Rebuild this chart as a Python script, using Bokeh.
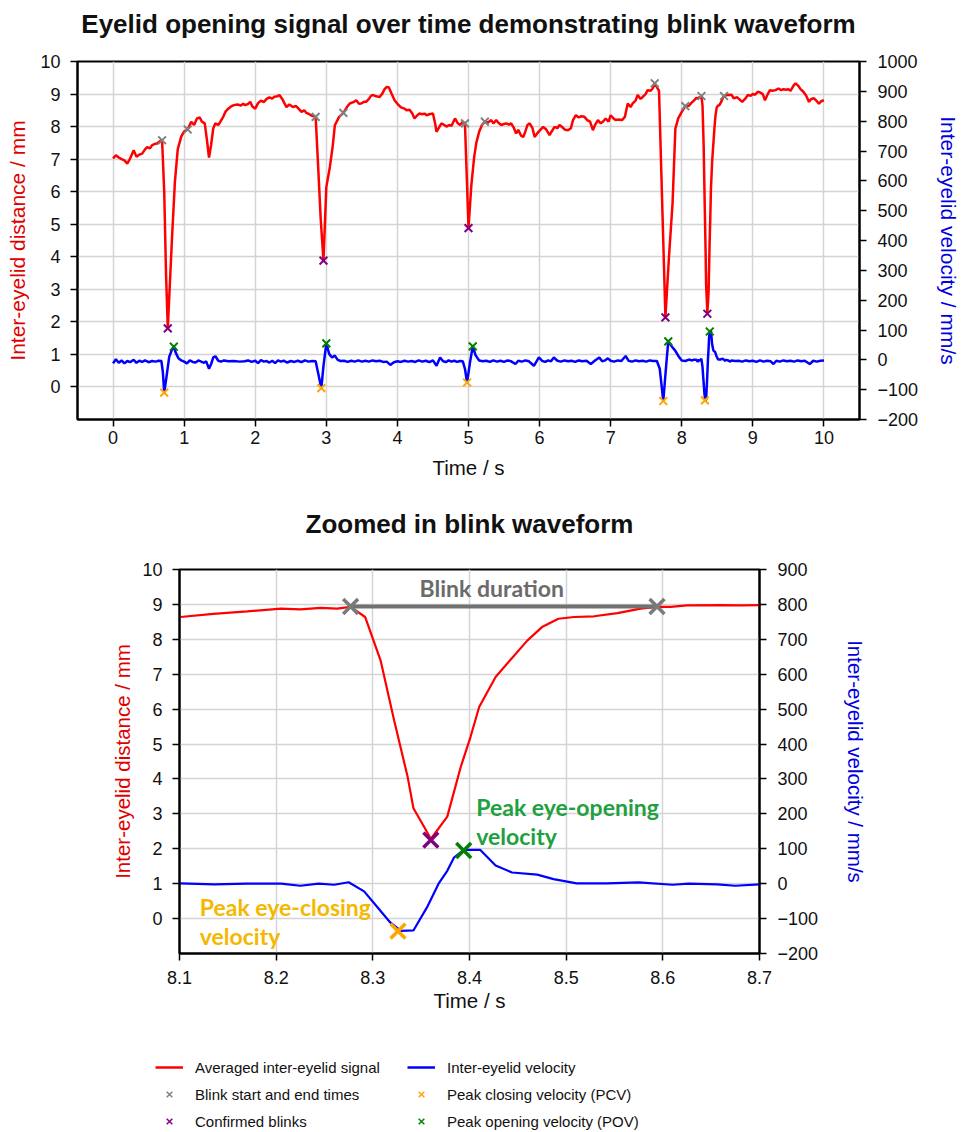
from bokeh.plotting import figure
from bokeh.models import Range1d, LinearAxis, FixedTicker, Label, Legend, LegendItem, Title
from bokeh.embed import file_html
from bokeh.resources import INLINE
from bokeh.core.properties import value

# ---------------- data ----------------
t_signal = [0.00, 0.04, 0.08, 0.12, 0.16, 0.20, 0.24, 0.29, 0.33, 0.37, 0.41, 0.45, 0.48, 0.52, 0.55, 0.59, 0.62, 0.66, 0.69,
            0.72, 0.745, 0.77, 0.80, 0.83, 0.87, 0.91, 0.96, 1.00, 1.05, 1.10, 1.14, 1.18, 1.22, 1.25, 1.29, 1.32, 1.35,
            1.38, 1.41, 1.44, 1.48, 1.51, 1.55, 1.58, 1.62, 1.66, 1.70, 1.75, 1.80, 1.83, 1.86, 1.90, 1.93, 1.96, 2.00,
            2.04, 2.08, 2.12, 2.16, 2.20, 2.24, 2.27, 2.31, 2.34, 2.38, 2.41, 2.44, 2.48, 2.53, 2.57, 2.61, 2.65, 2.69,
            2.72, 2.76, 2.80, 2.85, 2.88, 2.92, 2.96, 3.00, 3.05, 3.09, 3.12, 3.18, 3.24, 3.29, 3.33, 3.38, 3.42, 3.46,
            3.49, 3.53, 3.56, 3.60, 3.63, 3.66, 3.70, 3.75, 3.79, 3.82, 3.85, 3.88, 3.92, 3.96, 4.00, 4.05, 4.10, 4.13,
            4.17, 4.21, 4.24, 4.28, 4.31, 4.35, 4.38, 4.41, 4.45, 4.50, 4.53, 4.55, 4.58, 4.62, 4.66, 4.69, 4.73, 4.76,
            4.81, 4.85, 4.88, 4.92, 4.95, 4.975, 5.00, 5.04, 5.08, 5.11, 5.15, 5.19, 5.23, 5.27, 5.32, 5.35, 5.39, 5.42,
            5.46, 5.50, 5.53, 5.57, 5.60, 5.64, 5.67, 5.70, 5.74, 5.77, 5.80, 5.83, 5.86, 5.90, 5.93, 5.97, 6.01, 6.05,
            6.09, 6.14, 6.17, 6.21, 6.25, 6.28, 6.32, 6.36, 6.40, 6.44, 6.47, 6.51, 6.55, 6.59, 6.63, 6.67, 6.71, 6.75,
            6.78, 6.82, 6.86, 6.89, 6.93, 6.97, 7.00, 7.04, 7.07, 7.11, 7.16, 7.20, 7.24, 7.28, 7.31, 7.35, 7.38, 7.42,
            7.45, 7.49, 7.52, 7.56, 7.59, 7.62, 7.68, 7.72, 7.77, 7.82, 7.87, 7.91, 7.95, 8.00, 8.05, 8.101, 8.135,
            8.170, 8.205, 8.225, 8.246, 8.263, 8.277, 8.292, 8.308, 8.322, 8.336, 8.342, 8.353, 8.360, 8.377, 8.391,
            8.401, 8.410, 8.427, 8.442, 8.460, 8.475, 8.492, 8.508, 8.529, 8.553, 8.577, 8.594, 8.608, 8.625, 8.660,
            8.680, 8.700, 8.73, 8.78, 8.85, 8.89, 8.93, 8.97, 9.00, 9.03, 9.07, 9.10, 9.14, 9.17, 9.21, 9.24, 9.28,
            9.32, 9.36, 9.40, 9.43, 9.47, 9.50, 9.53, 9.57, 9.60, 9.64, 9.67, 9.71, 9.75, 9.79, 9.82, 9.86, 9.90, 9.93,
            9.96, 10.00]
mm_signal = [7.02, 7.12, 7.05, 7.00, 6.96, 6.86, 7.02, 7.27, 7.07, 7.14, 7.17, 7.30, 7.37, 7.33, 7.43, 7.47, 7.48, 7.55, 7.58,
             6.00, 3.50, 1.80, 3.20, 4.60, 6.30, 7.30, 7.70, 7.85, 7.91, 8.15, 8.05, 8.25, 8.28, 8.15, 8.10, 7.60, 7.05,
             7.45, 7.95, 8.10, 8.05, 8.15, 8.30, 8.45, 8.55, 8.62, 8.66, 8.68, 8.65, 8.70, 8.66, 8.70, 8.76, 8.62, 8.55,
             8.72, 8.80, 8.75, 8.85, 8.90, 8.86, 8.92, 8.93, 8.97, 8.85, 8.72, 8.60, 8.68, 8.60, 8.64, 8.55, 8.45, 8.50,
             8.42, 8.38, 8.33, 8.30, 7.00, 5.20, 3.88, 6.14, 6.76, 7.40, 8.04, 8.30, 8.42, 8.60, 8.71, 8.75, 8.81, 8.70,
             8.71, 8.76, 8.76, 8.85, 8.95, 8.97, 8.93, 8.91, 9.02, 9.15, 9.22, 9.20, 9.00, 8.81, 8.70, 8.59, 8.55, 8.50,
             8.52, 8.40, 8.25, 8.35, 8.40, 8.38, 8.40, 8.35, 8.38, 8.40, 8.10, 7.84, 7.95, 8.10, 8.05, 8.00, 8.05, 8.02,
             8.25, 8.10, 8.05, 8.15, 8.10, 6.50, 4.88, 6.20, 7.07, 7.50, 7.84, 8.05, 8.15, 8.12, 8.20, 8.10, 8.20, 8.12,
             8.05, 8.08, 8.10, 8.06, 8.10, 7.95, 7.79, 7.90, 7.72, 7.68, 7.85, 8.05, 8.10, 7.95, 7.68, 7.80, 7.90, 7.99,
             7.92, 7.74, 7.85, 7.99, 7.95, 8.05, 7.98, 7.90, 7.89, 7.95, 8.20, 8.35, 8.28, 8.32, 8.30, 8.20, 8.15, 7.89,
             8.05, 8.20, 8.10, 8.15, 8.25, 8.15, 8.35, 8.25, 8.20, 8.22, 8.20, 8.30, 8.71, 8.60, 8.71, 8.80, 8.97, 8.85,
             8.91, 9.00, 9.12, 9.10, 9.17, 9.33, 9.10, 6.00, 2.14, 4.00, 5.63, 7.94, 8.25, 8.45, 8.63, 8.64, 8.73,
             8.80, 8.88, 8.86, 8.90, 8.88, 8.93, 8.64, 7.40, 5.68, 4.06, 3.16, 2.63, 2.28, 2.92, 4.35,
             5.20, 6.06, 6.92, 7.40, 7.97, 8.35, 8.59, 8.64, 8.66, 8.75, 8.88, 8.93, 8.93, 8.97, 8.98,
             8.97, 8.98, 8.87, 8.90, 8.76, 8.85, 8.97, 8.95, 9.00, 8.98, 9.07, 9.05, 9.00, 8.81, 9.00, 9.12, 9.10,
             9.12, 9.17, 9.12, 9.15, 9.13, 9.15, 9.10, 9.25, 9.33, 9.25, 9.15, 9.07, 8.95, 8.76, 8.85, 8.87, 8.78, 8.70,
             8.78, 8.81]

t_velocity = [0.00, 0.04, 0.08, 0.12, 0.16, 0.20, 0.24, 0.29, 0.33, 0.37, 0.41, 0.45, 0.50, 0.55, 0.60, 0.64, 0.68, 0.70,
              0.72, 0.75, 0.79, 0.83, 0.855, 0.88, 0.92, 0.96, 1.00, 1.04, 1.08, 1.12, 1.16, 1.20, 1.24, 1.28, 1.31, 1.35,
              1.38, 1.41, 1.44, 1.48, 1.52, 1.56, 1.62, 1.70, 1.78, 1.85, 1.90, 1.95, 2.00, 2.04, 2.08, 2.12, 2.16, 2.20,
              2.24, 2.28, 2.32, 2.36, 2.40, 2.45, 2.50, 2.55, 2.60, 2.65, 2.70, 2.75, 2.80, 2.85, 2.89, 2.93, 2.96, 3.00,
              3.04, 3.08, 3.12, 3.16, 3.20, 3.25, 3.30, 3.35, 3.40, 3.45, 3.50, 3.55, 3.60, 3.65, 3.70, 3.75, 3.80, 3.85,
              3.90, 3.95, 4.00, 4.05, 4.10, 4.15, 4.20, 4.25, 4.30, 4.35, 4.40, 4.45, 4.50, 4.55, 4.60, 4.64, 4.68, 4.72,
              4.76, 4.80, 4.84, 4.88, 4.92, 4.95, 4.98, 5.02, 5.06, 5.10, 5.15, 5.20, 5.25, 5.30, 5.35, 5.40, 5.45, 5.50,
              5.55, 5.60, 5.66, 5.70, 5.75, 5.80, 5.85, 5.92, 5.99, 6.04, 6.08, 6.12, 6.16, 6.20, 6.25, 6.30, 6.35, 6.40,
              6.45, 6.50, 6.55, 6.60, 6.66, 6.72, 6.78, 6.84, 6.88, 6.92, 6.96, 7.00, 7.05, 7.10, 7.15, 7.21, 7.25, 7.30,
              7.35, 7.40, 7.45, 7.50, 7.55, 7.60, 7.65, 7.69, 7.74, 7.78, 7.81, 7.86, 7.91, 7.96, 8.00, 8.05, 8.101,
              8.136, 8.170, 8.205, 8.225, 8.244, 8.260, 8.275, 8.291, 8.305, 8.318, 8.329, 8.342, 8.356, 8.368, 8.377,
              8.384, 8.394, 8.411, 8.427, 8.444, 8.470, 8.487, 8.511, 8.542, 8.575, 8.610, 8.627, 8.656, 8.675, 8.700,
              8.75, 8.80, 8.85, 8.90, 8.95, 9.00, 9.05, 9.10, 9.15, 9.20, 9.25, 9.29, 9.33, 9.38, 9.43, 9.48, 9.53, 9.58,
              9.63, 9.68, 9.73, 9.80, 9.85, 9.90, 9.95, 10.00]
v_velocity = [-12, 2, -10, -2, -12, -4, -8, 0, -10, -3, -7, -2, -8, -4, -6, -3, -4, -40,
              -110, -60, 10, 35, 44, 25, 5, -2, -6, -12, -2, -7, -9, -2, -6, -10, -5, -30,
              -14, 8, 12, -3, -6, -2, -5, -4, -6, -5, -2, -7, -3, -11, -1, -6, -4, -9,
              -3, -11, -2, -6, -3, -9, -4, -7, -3, -8, -2, -6, -4, -5, -50, -95, -20, 55,
              20, 8, 14, 0, -4, -3, -7, -3, -6, -2, -6, -3, -6, -2, -5, -3, -7, -6,
              -17, -8, -5, -7, -3, -6, -4, -7, -2, -6, -3, -8, -2, -20, 8, -4, -8, -2,
              -6, -3, -7, -4, -5, -30, -76, -10, 45, 15, -2, -5, -3, -7, -2, -6, -3, -7,
              -2, -5, -14, -3, -6, -2, -5, -20, 8, -4, -7, -2, -5, 8, -3, -6, -2, -5,
              -3, -7, -2, -5, -3, -14, -2, 8, -5, -2, 5, -3, -6, -2, -4, 13, -3, -6,
              -2, -5, -3, -6, -2, -4, -4, -30, -138, -20, 62, 45, 30, 10, -2, -4, 1,
              -2, 0, 0, -6, 0, -3, 4, -22, -68, -111, -135, -134, -68, 0, 37,
              75, 97, 97, 52, 32, 26, 13, 1, 1, 4, -3, 0, -2, -6, -2,
              -4, -3, -6, -2, -5, -3, -7, -2, -6, -3, -5, -14, -3, -6, -2, -5, -3, -6,
              -2, -5, -3, -14, -3, -6, -3, -2]

blink_edge_t = [0.69, 1.05, 2.85, 3.24, 4.95, 5.23, 7.62, 8.05, 8.277, 8.594]
blink_edge_mm = [7.58, 7.91, 8.30, 8.42, 8.10, 8.15, 9.33, 8.63, 8.94, 8.94]
confirmed_t = [0.77, 2.96, 5.00, 7.77, 8.36]
confirmed_mm = [1.80, 3.88, 4.88, 2.14, 2.25]
pcv_t = [0.72, 2.93, 4.98, 7.74, 8.326]
pcv_v = [-110, -95, -76, -138, -136]
pov_t = [0.855, 3.00, 5.06, 7.81, 8.394]
pov_v = [44, 55, 45, 62, 95]

top_x_ticks = list(range(0, 11))
mm_ticks = list(range(0, 11))
top_vel_ticks = list(range(-200, 1001, 100))
zoom_x_ticks = [8.1, 8.2, 8.3, 8.4, 8.5, 8.6, 8.7]
zoom_vel_ticks = list(range(-200, 901, 100))

legend_labels_left = ["Averaged inter-eyelid signal", "Blink start and end times", "Confirmed blinks"]
legend_labels_right = ["Inter-eyelid velocity", "Peak closing velocity (PCV)", "Peak opening velocity (POV)"]

# ---------------- style ----------------
FONT = "Liberation Sans"
ANN = "Lato"
RED = "#ff0000"
BLUE = "#0000ff"
GRAY = "#808080"
PURPLE = "#800080"
ORANGE = "#ffa500"
GREEN = "#008000"
NAN = float("nan")
W = 970


def minus_overrides(ticks):
    return {t: ("\u2212" + str(abs(t))) for t in ticks if t < 0}


def style_axis(ax, ticks, label, label_color, tick_standoff, label_standoff, label_size="20.5px"):
    ax.ticker = FixedTicker(ticks=ticks)
    ax.axis_line_color = "black"
    ax.axis_line_width = 2
    ax.major_tick_line_color = "black"
    ax.major_tick_line_width = 1.5
    ax.major_tick_in = 0
    ax.major_tick_out = 7
    ax.minor_tick_line_color = None
    ax.major_label_text_font = FONT
    ax.major_label_text_font_size = "18px"
    ax.major_label_text_color = "#111111"
    ax.major_label_standoff = tick_standoff
    ax.axis_label = label
    ax.axis_label_text_font = FONT
    ax.axis_label_text_font_size = label_size
    ax.axis_label_text_font_style = "normal"
    ax.axis_label_text_color = label_color
    ax.axis_label_standoff = label_standoff
    ov = minus_overrides(ticks)
    if ov:
        ax.major_label_overrides = ov


def base_figure(height, xr, yr, vr, borders, title, title_standoff, spacer_standoff):
    p = figure(width=W, height=height, x_range=xr, y_range=yr,
               output_backend="svg", toolbar_location=None,
               min_border_left=borders[0], min_border_right=borders[1],
               min_border_top=borders[2], min_border_bottom=borders[3])
    p.extra_y_ranges = {"vel": vr}
    p.outline_line_color = "black"
    p.outline_line_width = 2
    p.background_fill_color = "white"
    p.border_fill_color = "white"
    p.grid.grid_line_color = "#d4d4d4"
    p.grid.grid_line_width = 1.5
    p.title.text = title
    p.title.align = "center"
    p.title.text_font = FONT
    p.title.text_font_size = "26px"
    p.title.text_font_style = "bold"
    p.title.text_color = "#111111"
    p.title.standoff = title_standoff
    # empty spacer between the title and the plot frame
    p.add_layout(Title(text=" ", text_font_size="10px", standoff=spacer_standoff), "above")
    return p


# ---------------- top panel ----------------
p1 = base_figure(490, Range1d(-0.5, 10.5), Range1d(-1, 10), Range1d(-200, 1000),
                 (77, W - 859, 61, 71), "Eyelid opening signal over time demonstrating blink waveform", 10, 5)
style_axis(p1.xaxis[0], top_x_ticks, "Time / s", "#111111", 4, 9)
style_axis(p1.yaxis[0], mm_ticks, "Inter-eyelid distance / mm", "#e00000", 10, 8, "21px")
r_ax1 = LinearAxis(y_range_name="vel")
style_axis(r_ax1, top_vel_ticks, "Inter-eyelid velocity / mm/s", "#0000e0", 11, 16, "21px")
p1.add_layout(r_ax1, "right")

p1.line(t_signal, mm_signal, line_color=RED, line_width=2.5)
p1.line(t_velocity, v_velocity, line_color=BLUE, line_width=2.5, y_range_name="vel")
p1.scatter(blink_edge_t, blink_edge_mm, marker="x", size=11, line_color=GRAY, line_width=2)
p1.scatter(confirmed_t, confirmed_mm, marker="x", size=11, line_color=PURPLE, line_width=2)
p1.scatter(pcv_t, pcv_v, marker="x", size=11, line_color=ORANGE, line_width=2, y_range_name="vel")
p1.scatter(pov_t, pov_v, marker="x", size=11, line_color=GREEN, line_width=2, y_range_name="vel")

# ---------------- zoomed panel ----------------
p2 = base_figure(527, Range1d(8.1, 8.7), Range1d(-1, 10), Range1d(-200, 900),
                 (179, W - 759, 79, 64), "Zoomed in blink waveform", 30, 3)
style_axis(p2.xaxis[0], zoom_x_ticks, "Time / s", "#111111", 10, 2)
p2.xaxis[0].major_label_overrides = {8.1: "8.1", 8.2: "8.2", 8.3: "8.3", 8.4: "8.4", 8.5: "8.5", 8.6: "8.6", 8.7: "8.7"}
style_axis(p2.yaxis[0], mm_ticks, "Inter-eyelid distance / mm", "#e00000", 10, 5)
r_ax2 = LinearAxis(y_range_name="vel")
style_axis(r_ax2, zoom_vel_ticks, "Inter-eyelid velocity / mm/s", "#0000e0", 11, 23)
p2.add_layout(r_ax2, "right")

p2.line(t_signal, mm_signal, line_color=RED, line_width=2.2)
p2.line(t_velocity, v_velocity, line_color=BLUE, line_width=2.2, y_range_name="vel")
p2.line([blink_edge_t[8], blink_edge_t[9]], [blink_edge_mm[8], blink_edge_mm[9]], line_color="#727272", line_width=4)
p2.scatter(blink_edge_t[8:], blink_edge_mm[8:], marker="x", size=21, line_color="#7a7a7a", line_width=3.5)
p2.scatter(confirmed_t[4:], confirmed_mm[4:], marker="x", size=21, line_color=PURPLE, line_width=3.5)
p2.scatter(pcv_t[4:], pcv_v[4:], marker="x", size=21, line_color=ORANGE, line_width=3.5, y_range_name="vel")
p2.scatter(pov_t[4:], pov_v[4:], marker="x", size=21, line_color=GREEN, line_width=3.5, y_range_name="vel")

ann_kw = dict(text_font=ANN, text_font_size="23px", text_font_style="bold", text_baseline="middle")
p2.add_layout(Label(x=8.423, y=9.46, text="Blink duration", text_align="center", text_color="#6b6b6b", **ann_kw))
p2.add_layout(Label(x=8.407, y=3.20, text="Peak eye-opening", text_align="left", text_color="#21a040", **ann_kw))
p2.add_layout(Label(x=8.407, y=2.36, text="velocity", text_align="left", text_color="#21a040", **ann_kw))
p2.add_layout(Label(x=8.121, y=0.34, text="Peak eye-closing", text_align="left", text_color="#f5b800", **ann_kw))
p2.add_layout(Label(x=8.121, y=-0.51, text="velocity", text_align="left", text_color="#f5b800", **ann_kw))
p2.add_layout(Label(x=8.399, y=12.06, text=".", text_align="center", text_baseline="middle",
                    text_font=FONT, text_font_size="12px", text_color="#333333"))

# ---------------- legend ----------------
p3 = figure(width=W, height=114, x_range=Range1d(0, 1), y_range=Range1d(0, 1),
            output_backend="svg", toolbar_location=None, x_axis_type=None, y_axis_type=None,
            min_border_left=0, min_border_right=0, min_border_top=0, min_border_bottom=0)
p3.outline_line_color = None
p3.grid.visible = False

lr_red = p3.line(x=[NAN], y=[NAN], line_color=RED, line_width=2.5)
lr_gray = p3.scatter(x=[NAN], y=[NAN], marker="x", size=10, line_color=GRAY, line_width=1.5)
lr_purple = p3.scatter(x=[NAN], y=[NAN], marker="x", size=10, line_color=PURPLE, line_width=1.5)
lr_blue = p3.line(x=[NAN], y=[NAN], line_color=BLUE, line_width=2.5)
lr_orange = p3.scatter(x=[NAN], y=[NAN], marker="x", size=10, line_color=ORANGE, line_width=1.5)
lr_green = p3.scatter(x=[NAN], y=[NAN], marker="x", size=10, line_color=GREEN, line_width=1.5)

leg_kw = dict(orientation="vertical", padding=0, margin=0, spacing=7, label_height=20, glyph_height=20,
              glyph_width=28, label_standoff=12, border_line_color=None, background_fill_alpha=0,
              label_text_font=FONT, label_text_font_size="15px", label_text_color="#111111")
leg1 = Legend(items=[LegendItem(label=value(legend_labels_left[0]), renderers=[lr_red]),
                     LegendItem(label=value(legend_labels_left[1]), renderers=[lr_gray]),
                     LegendItem(label=value(legend_labels_left[2]), renderers=[lr_purple])],
              location=(155, 0), **leg_kw)
leg2 = Legend(items=[LegendItem(label=value(legend_labels_right[0]), renderers=[lr_blue]),
                     LegendItem(label=value(legend_labels_right[1]), renderers=[lr_orange]),
                     LegendItem(label=value(legend_labels_right[2]), renderers=[lr_green])],
              location=(407, 0), **leg_kw)
p3.add_layout(leg1)
p3.add_layout(leg2)

open("out.html", "w").write(file_html([p1, p2, p3], INLINE))
